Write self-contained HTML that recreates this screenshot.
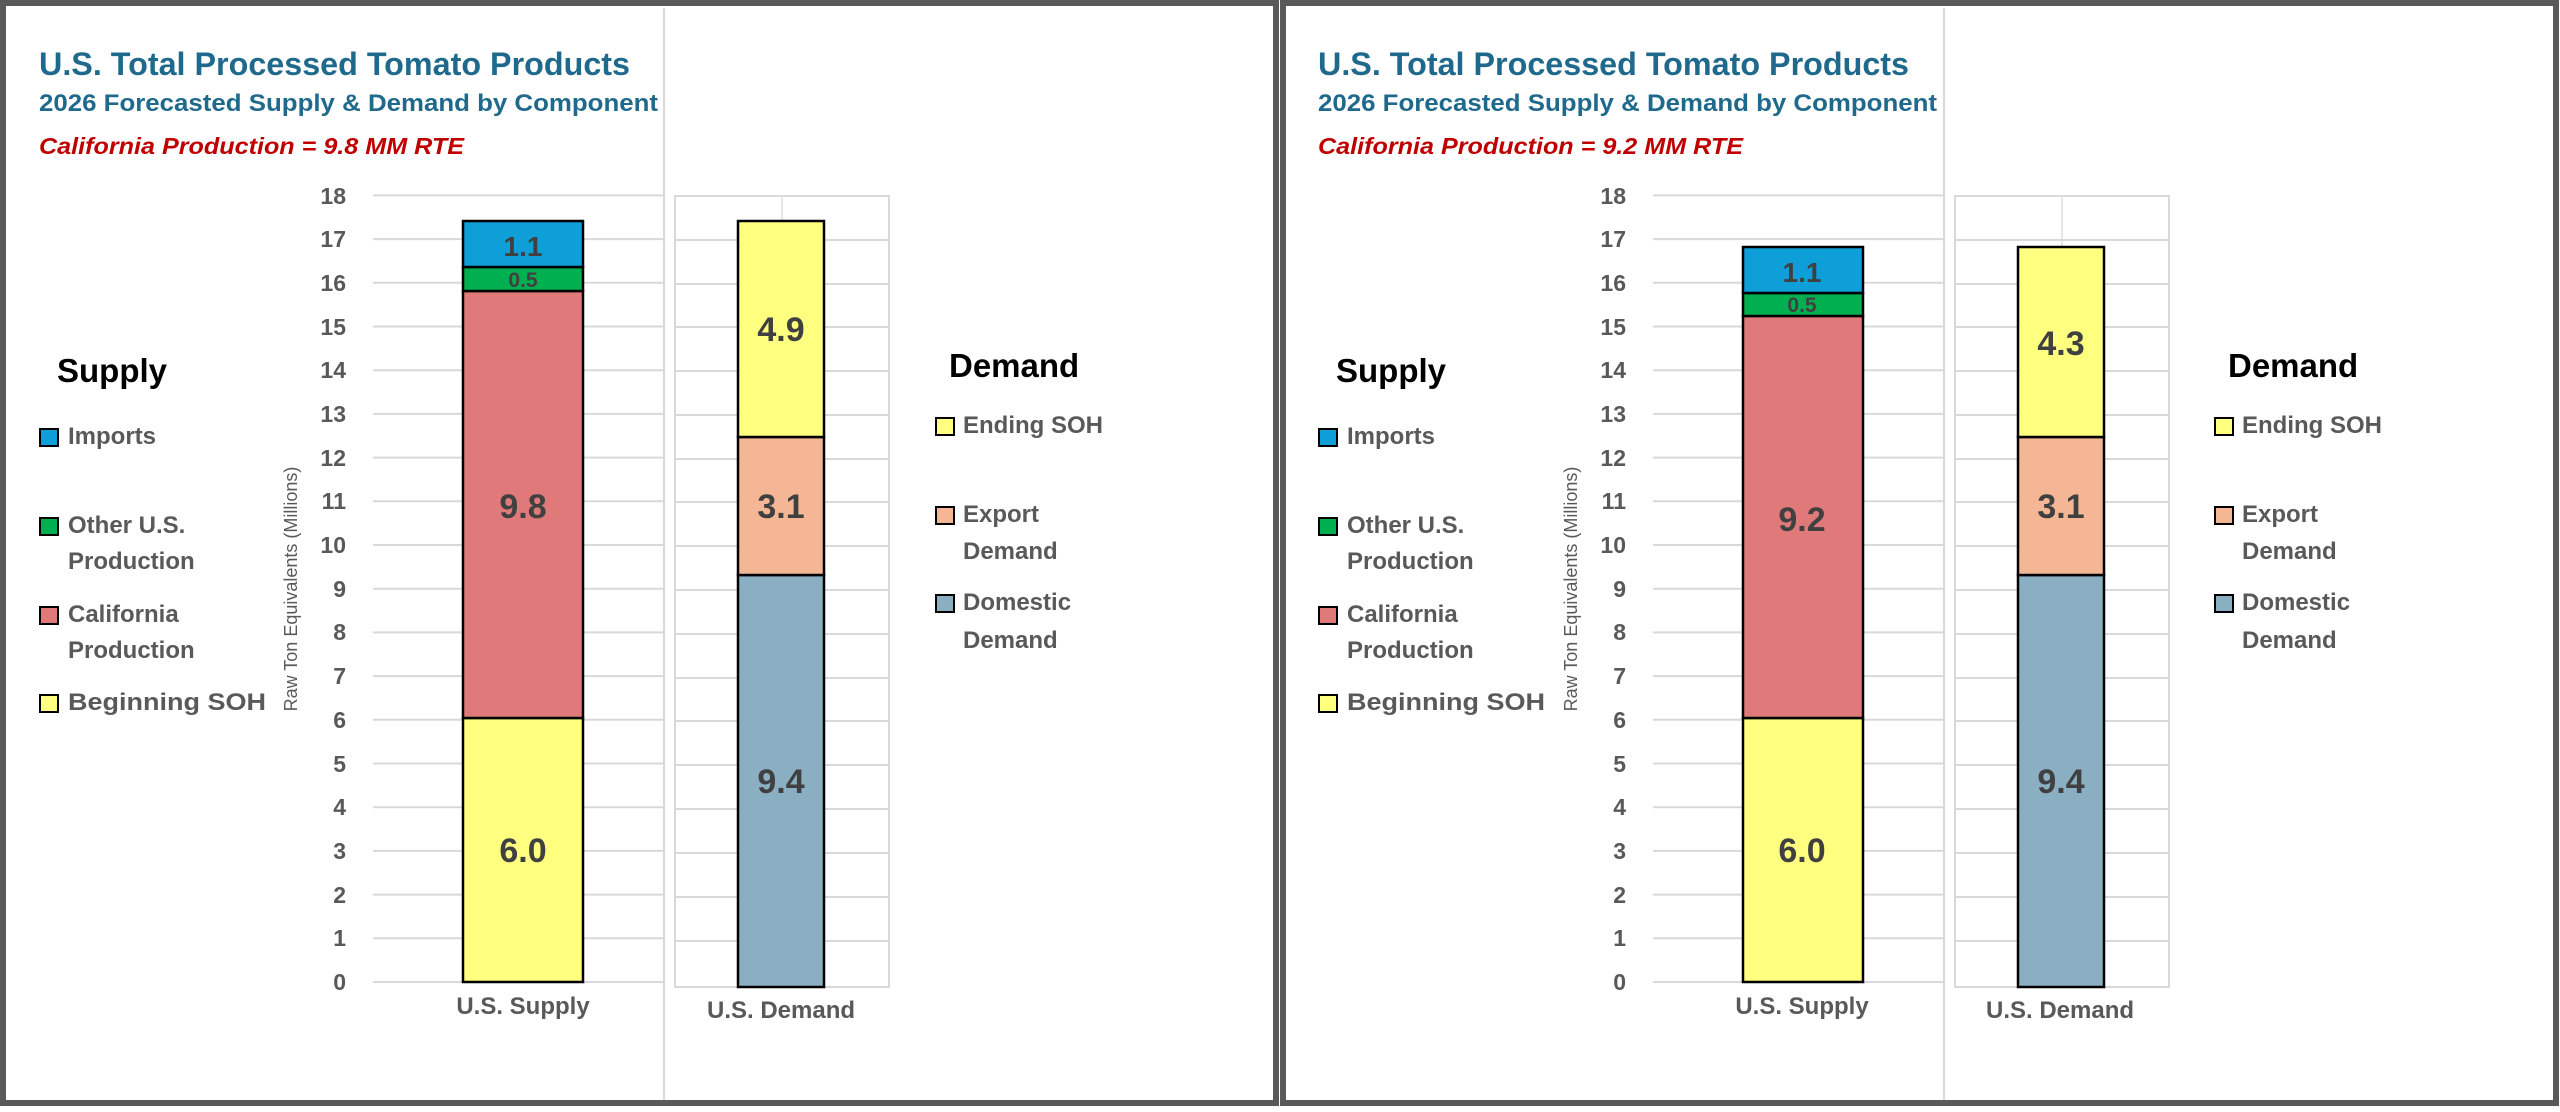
<!DOCTYPE html>
<html><head><meta charset="utf-8"><style>
html,body{margin:0;padding:0;background:#fff;}
body{width:2560px;height:1112px;overflow:hidden;position:relative;}
svg{position:absolute;top:0;}
text{font-family:"Liberation Sans",sans-serif;}
</style></head><body>

<svg width="1280" height="1112" viewBox="0 0 1280 1112" style="left:0">
<rect x="3" y="3" width="1273" height="1100" fill="#fff" stroke="#595959" stroke-width="6"/>
<line x1="664" y1="8" x2="664" y2="1100" stroke="#d9d9d9" stroke-width="2"/>
<text x="39" y="75" font-size="32" font-weight="bold" fill="#1F6A8C" textLength="591" lengthAdjust="spacingAndGlyphs">U.S. Total Processed Tomato Products</text>
<text x="39" y="111" font-size="24" font-weight="bold" fill="#1F6A8C" textLength="619" lengthAdjust="spacingAndGlyphs">2026 Forecasted Supply &amp; Demand by Component</text>
<text x="39" y="154" font-size="23" font-weight="bold" font-style="italic" fill="#C00000" textLength="425" lengthAdjust="spacingAndGlyphs">California Production = 9.8 MM RTE</text>
<g stroke="#d9d9d9" stroke-width="2">
<line x1="373" x2="664" y1="982" y2="982"/><line x1="373" x2="664" y1="938.3" y2="938.3"/><line x1="373" x2="664" y1="894.6" y2="894.6"/><line x1="373" x2="664" y1="850.9" y2="850.9"/><line x1="373" x2="664" y1="807.2" y2="807.2"/><line x1="373" x2="664" y1="763.5" y2="763.5"/><line x1="373" x2="664" y1="719.8" y2="719.8"/><line x1="373" x2="664" y1="676.1" y2="676.1"/><line x1="373" x2="664" y1="632.4" y2="632.4"/><line x1="373" x2="664" y1="588.7" y2="588.7"/><line x1="373" x2="664" y1="545" y2="545"/><line x1="373" x2="664" y1="501.3" y2="501.3"/><line x1="373" x2="664" y1="457.6" y2="457.6"/><line x1="373" x2="664" y1="413.9" y2="413.9"/><line x1="373" x2="664" y1="370.2" y2="370.2"/><line x1="373" x2="664" y1="326.5" y2="326.5"/><line x1="373" x2="664" y1="282.8" y2="282.8"/><line x1="373" x2="664" y1="239.1" y2="239.1"/><line x1="373" x2="664" y1="195.4" y2="195.4"/>
</g>
<g font-size="23" font-weight="bold" fill="#595959" text-anchor="end">
<text x="346" y="990">0</text><text x="346" y="946">1</text><text x="346" y="903">2</text><text x="346" y="859">3</text><text x="346" y="815">4</text><text x="346" y="772">5</text><text x="346" y="728">6</text><text x="346" y="684">7</text><text x="346" y="640">8</text><text x="346" y="597">9</text><text x="346" y="553">10</text><text x="346" y="509">11</text><text x="346" y="466">12</text><text x="346" y="422">13</text><text x="346" y="378">14</text><text x="346" y="335">15</text><text x="346" y="291">16</text><text x="346" y="247">17</text><text x="346" y="204">18</text>
</g>
<text transform="translate(297,589) rotate(-90)" font-size="18" fill="#595959" text-anchor="middle">Raw Ton Equivalents (Millions)</text>
<!-- demand box -->
<rect x="675" y="196" width="214" height="791" fill="none" stroke="#d9d9d9" stroke-width="2"/>
<line x1="782" y1="196" x2="782" y2="987" stroke="#e6e6e6" stroke-width="2"/>
<g stroke="#d9d9d9" stroke-width="2">
<line x1="675" x2="889" y1="941" y2="941"/><line x1="675" x2="889" y1="897" y2="897"/><line x1="675" x2="889" y1="853" y2="853"/><line x1="675" x2="889" y1="809" y2="809"/><line x1="675" x2="889" y1="765" y2="765"/><line x1="675" x2="889" y1="721" y2="721"/><line x1="675" x2="889" y1="678" y2="678"/><line x1="675" x2="889" y1="634" y2="634"/><line x1="675" x2="889" y1="590" y2="590"/><line x1="675" x2="889" y1="546" y2="546"/><line x1="675" x2="889" y1="502" y2="502"/><line x1="675" x2="889" y1="459" y2="459"/><line x1="675" x2="889" y1="415" y2="415"/><line x1="675" x2="889" y1="371" y2="371"/><line x1="675" x2="889" y1="327" y2="327"/><line x1="675" x2="889" y1="284" y2="284"/><line x1="675" x2="889" y1="240" y2="240"/>
</g>
<!-- supply bar -->
<g stroke="#000" stroke-width="2.5">
<rect x="463" y="718" width="120" height="264" fill="#FFFF80"/>
<rect x="463" y="291" width="120" height="427" fill="#E07A7A"/>
<rect x="463" y="267" width="120" height="24" fill="#00B050"/>
<rect x="463" y="221" width="120" height="46" fill="#0E9FD8"/>
</g>
<g font-weight="bold" fill="#404040" text-anchor="middle">
<text x="523" y="862" font-size="34">6.0</text>
<text x="523" y="518" font-size="34">9.8</text>
<text x="523" y="287" font-size="21">0.5</text>
<text x="523" y="256" font-size="28">1.1</text>
</g>
<!-- demand bar -->
<g stroke="#000" stroke-width="2.5">
<rect x="738" y="575" width="86" height="412" fill="#8BAFC2"/>
<rect x="738" y="437" width="86" height="138" fill="#F4B695"/>
<rect x="738" y="221" width="86" height="216" fill="#FFFF80"/>
</g>
<g font-weight="bold" fill="#404040" text-anchor="middle" font-size="34">
<text x="781" y="793">9.4</text>
<text x="781" y="518">3.1</text>
<text x="781" y="341">4.9</text>
</g>
<g font-size="24" font-weight="bold" fill="#595959" text-anchor="middle">
<text x="523" y="1014">U.S. Supply</text>
<text x="781" y="1018">U.S. Demand</text>
</g>
<!-- legends -->
<text x="57" y="382" font-size="33" font-weight="bold" fill="#000">Supply</text>
<g stroke="#000" stroke-width="2">
<rect x="40" y="429" width="18" height="17" fill="#0E9FD8"/>
<rect x="40" y="518" width="18" height="17" fill="#00B050"/>
<rect x="40" y="607" width="18" height="17" fill="#E07A7A"/>
<rect x="40" y="695" width="18" height="17" fill="#FFFF80"/>
<rect x="936" y="418" width="18" height="17" fill="#FFFF80"/>
<rect x="936" y="507" width="18" height="17" fill="#F4B695"/>
<rect x="936" y="595" width="18" height="17" fill="#8BAFC2"/>
</g>
<g font-size="24" font-weight="bold" fill="#595959">
<text x="68" y="444">Imports</text>
<text x="68" y="533">Other U.S.</text><text x="68" y="569">Production</text>
<text x="68" y="622">California</text><text x="68" y="658">Production</text>
<text x="68" y="710" textLength="198" lengthAdjust="spacingAndGlyphs">Beginning SOH</text>
<text x="963" y="433">Ending SOH</text>
<text x="963" y="522">Export</text><text x="963" y="559">Demand</text>
<text x="963" y="610">Domestic</text><text x="963" y="648">Demand</text>
</g>
<text x="949" y="377" font-size="33" font-weight="bold" fill="#000">Demand</text>
</svg>

<svg width="1280" height="1112" viewBox="0 0 1280 1112" style="left:1280px">
<rect x="3" y="3" width="1273" height="1100" fill="#fff" stroke="#595959" stroke-width="6"/>
<line x1="664" y1="8" x2="664" y2="1100" stroke="#d9d9d9" stroke-width="2"/>
<text x="38" y="75" font-size="32" font-weight="bold" fill="#1F6A8C" textLength="591" lengthAdjust="spacingAndGlyphs">U.S. Total Processed Tomato Products</text>
<text x="38" y="111" font-size="24" font-weight="bold" fill="#1F6A8C" textLength="619" lengthAdjust="spacingAndGlyphs">2026 Forecasted Supply &amp; Demand by Component</text>
<text x="38" y="154" font-size="23" font-weight="bold" font-style="italic" fill="#C00000" textLength="425" lengthAdjust="spacingAndGlyphs">California Production = 9.2 MM RTE</text>
<g stroke="#d9d9d9" stroke-width="2">
<line x1="373" x2="664" y1="982" y2="982"/><line x1="373" x2="664" y1="938.3" y2="938.3"/><line x1="373" x2="664" y1="894.6" y2="894.6"/><line x1="373" x2="664" y1="850.9" y2="850.9"/><line x1="373" x2="664" y1="807.2" y2="807.2"/><line x1="373" x2="664" y1="763.5" y2="763.5"/><line x1="373" x2="664" y1="719.8" y2="719.8"/><line x1="373" x2="664" y1="676.1" y2="676.1"/><line x1="373" x2="664" y1="632.4" y2="632.4"/><line x1="373" x2="664" y1="588.7" y2="588.7"/><line x1="373" x2="664" y1="545" y2="545"/><line x1="373" x2="664" y1="501.3" y2="501.3"/><line x1="373" x2="664" y1="457.6" y2="457.6"/><line x1="373" x2="664" y1="413.9" y2="413.9"/><line x1="373" x2="664" y1="370.2" y2="370.2"/><line x1="373" x2="664" y1="326.5" y2="326.5"/><line x1="373" x2="664" y1="282.8" y2="282.8"/><line x1="373" x2="664" y1="239.1" y2="239.1"/><line x1="373" x2="664" y1="195.4" y2="195.4"/>
</g>
<g font-size="23" font-weight="bold" fill="#595959" text-anchor="end">
<text x="346" y="990">0</text><text x="346" y="946">1</text><text x="346" y="903">2</text><text x="346" y="859">3</text><text x="346" y="815">4</text><text x="346" y="772">5</text><text x="346" y="728">6</text><text x="346" y="684">7</text><text x="346" y="640">8</text><text x="346" y="597">9</text><text x="346" y="553">10</text><text x="346" y="509">11</text><text x="346" y="466">12</text><text x="346" y="422">13</text><text x="346" y="378">14</text><text x="346" y="335">15</text><text x="346" y="291">16</text><text x="346" y="247">17</text><text x="346" y="204">18</text>
</g>
<text transform="translate(297,589) rotate(-90)" font-size="18" fill="#595959" text-anchor="middle">Raw Ton Equivalents (Millions)</text>
<rect x="675" y="196" width="214" height="791" fill="none" stroke="#d9d9d9" stroke-width="2"/>
<line x1="782" y1="196" x2="782" y2="987" stroke="#e6e6e6" stroke-width="2"/>
<g stroke="#d9d9d9" stroke-width="2">
<line x1="675" x2="889" y1="941" y2="941"/><line x1="675" x2="889" y1="897" y2="897"/><line x1="675" x2="889" y1="853" y2="853"/><line x1="675" x2="889" y1="809" y2="809"/><line x1="675" x2="889" y1="765" y2="765"/><line x1="675" x2="889" y1="721" y2="721"/><line x1="675" x2="889" y1="678" y2="678"/><line x1="675" x2="889" y1="634" y2="634"/><line x1="675" x2="889" y1="590" y2="590"/><line x1="675" x2="889" y1="546" y2="546"/><line x1="675" x2="889" y1="502" y2="502"/><line x1="675" x2="889" y1="459" y2="459"/><line x1="675" x2="889" y1="415" y2="415"/><line x1="675" x2="889" y1="371" y2="371"/><line x1="675" x2="889" y1="327" y2="327"/><line x1="675" x2="889" y1="284" y2="284"/><line x1="675" x2="889" y1="240" y2="240"/>
</g>
<g stroke="#000" stroke-width="2.5">
<rect x="463" y="718" width="120" height="264" fill="#FFFF80"/>
<rect x="463" y="316" width="120" height="402" fill="#E07A7A"/>
<rect x="463" y="293" width="120" height="23" fill="#00B050"/>
<rect x="463" y="247" width="120" height="46" fill="#0E9FD8"/>
</g>
<g font-weight="bold" fill="#404040" text-anchor="middle">
<text x="522" y="862" font-size="34">6.0</text>
<text x="522" y="531" font-size="34">9.2</text>
<text x="522" y="312" font-size="21">0.5</text>
<text x="522" y="282" font-size="28">1.1</text>
</g>
<g stroke="#000" stroke-width="2.5">
<rect x="738" y="575" width="86" height="412" fill="#8BAFC2"/>
<rect x="738" y="437" width="86" height="138" fill="#F4B695"/>
<rect x="738" y="247" width="86" height="190" fill="#FFFF80"/>
</g>
<g font-weight="bold" fill="#404040" text-anchor="middle" font-size="34">
<text x="781" y="793">9.4</text>
<text x="781" y="518">3.1</text>
<text x="781" y="355">4.3</text>
</g>
<g font-size="24" font-weight="bold" fill="#595959" text-anchor="middle">
<text x="522" y="1014">U.S. Supply</text>
<text x="780" y="1018">U.S. Demand</text>
</g>
<text x="56" y="382" font-size="33" font-weight="bold" fill="#000">Supply</text>
<g stroke="#000" stroke-width="2">
<rect x="39" y="429" width="18" height="17" fill="#0E9FD8"/>
<rect x="39" y="518" width="18" height="17" fill="#00B050"/>
<rect x="39" y="607" width="18" height="17" fill="#E07A7A"/>
<rect x="39" y="695" width="18" height="17" fill="#FFFF80"/>
<rect x="935" y="418" width="18" height="17" fill="#FFFF80"/>
<rect x="935" y="507" width="18" height="17" fill="#F4B695"/>
<rect x="935" y="595" width="18" height="17" fill="#8BAFC2"/>
</g>
<g font-size="24" font-weight="bold" fill="#595959">
<text x="67" y="444">Imports</text>
<text x="67" y="533">Other U.S.</text><text x="67" y="569">Production</text>
<text x="67" y="622">California</text><text x="67" y="658">Production</text>
<text x="67" y="710" textLength="198" lengthAdjust="spacingAndGlyphs">Beginning SOH</text>
<text x="962" y="433">Ending SOH</text>
<text x="962" y="522">Export</text><text x="962" y="559">Demand</text>
<text x="962" y="610">Domestic</text><text x="962" y="648">Demand</text>
</g>
<text x="948" y="377" font-size="33" font-weight="bold" fill="#000">Demand</text>
</svg>

</body></html>
